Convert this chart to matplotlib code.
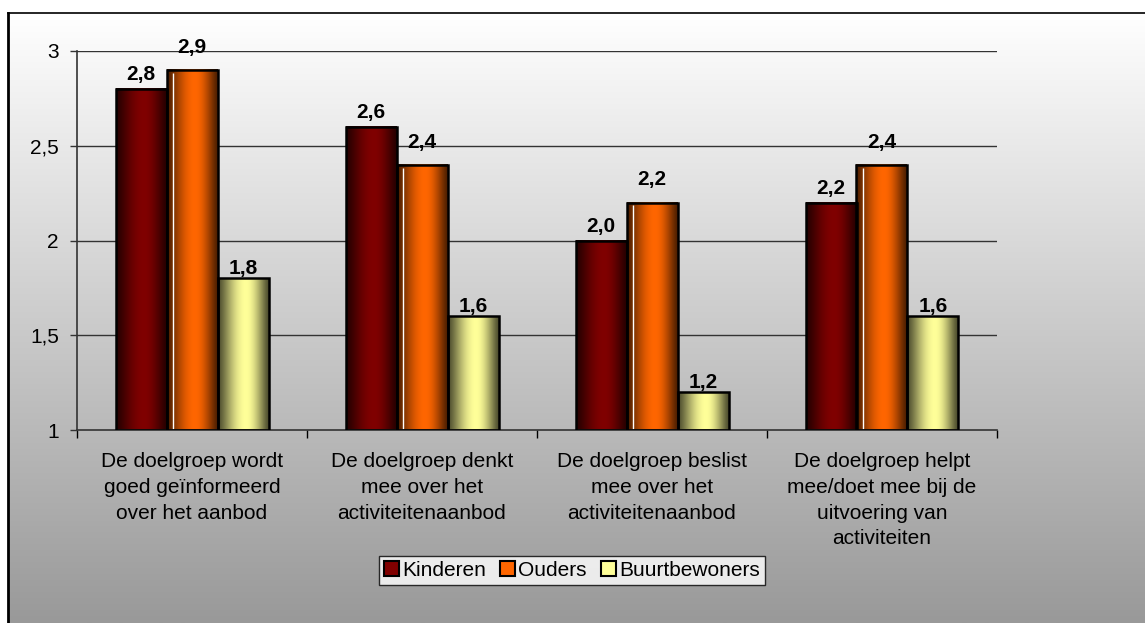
import numpy as np
import matplotlib
matplotlib.use("Agg")
import matplotlib.pyplot as plt
from matplotlib.patches import Rectangle, Patch
from matplotlib.colors import to_rgb

categories = [
    "De doelgroep wordt\ngoed geïnformeerd\nover het aanbod",
    "De doelgroep denkt\nmee over het\nactiviteitenaanbod",
    "De doelgroep beslist\nmee over het\nactiviteitenaanbod",
    "De doelgroep helpt\nmee/doet mee bij de\nuitvoering van\nactiviteiten",
]
series_names = ["Kinderen", "Ouders", "Buurtbewoners"]
kinderen = [2.8, 2.6, 2.0, 2.2]
ouders = [2.9, 2.4, 2.2, 2.4]
buurtbewoners = [1.8, 1.6, 1.2, 1.6]
series_values = [kinderen, ouders, buurtbewoners]
colors = ["#800000", "#FF6600", "#FFFF99"]
label_offsets_pt = [3.5, 9.5, 0.0]
yticks = [1, 1.5, 2, 2.5, 3]
ytick_labels = ["1", "1,5", "2", "2,5", "3"]

plt.rcParams['font.family'] = ['Liberation Sans', 'DejaVu Sans']
FS = 15

W, H = 1145, 623
fig = plt.figure(figsize=(W / 100, H / 100), dpi=100)
fig.patch.set_facecolor("white")

# background gradient inside the border
bg = fig.add_axes([8 / W, 0, 1 - 8 / W, (H - 13) / H])
bg.set_axis_off()
grad = np.linspace(1.0, 0.60, 256).reshape(-1, 1)
bg.imshow(np.dstack([grad, grad, grad]), aspect="auto", extent=[0, 1, 0, 1],
          origin="upper")
bg.set_xlim(0, 1); bg.set_ylim(0, 1)
bg.plot([0, 0], [0, 1], color="black", lw=2.0, transform=bg.transAxes, clip_on=False)
bg.plot([0, 1], [1, 1], color="black", lw=1.2, transform=bg.transAxes, clip_on=False)

ax = fig.add_axes([77 / W, (H - 430) / H, (997 - 77) / W, (430 - 51) / H])
ax.set_facecolor("none")
ax.set_xlim(-0.5, 3.5)
ax.set_ylim(1, 3)

bw = 51 / 230
offsets = [-bw, 0, bw]
t = np.linspace(0, 1, 200)
peak = 0.55
u = np.where(t < peak, t / peak, (1 - t) / (1 - peak))
profile = 0.3 + 0.7 * np.sin(np.pi / 2 * u) ** 1.3

for s, (vals, col) in enumerate(zip(series_values, colors)):
    base = np.array(to_rgb(col))
    img = np.clip(profile[None, :, None] * base[None, None, :], 0, 1)
    for i, v in enumerate(vals):
        x0 = i + offsets[s] - bw / 2
        ax.imshow(img, aspect="auto", extent=[x0, x0 + bw, 1, v], zorder=2,
                  interpolation="bilinear")
        if s == 1:
            ax.plot([x0 + bw * 0.13] * 2, [1, v - 0.015], color="white",
                    lw=1.0, zorder=2.5, solid_capstyle="butt")
        ax.add_patch(Rectangle((x0, 1), bw, v - 1, facecolor="none",
                               edgecolor="black", lw=1.8, zorder=3))
        ax.annotate(f"{v:.1f}".replace(".", ","), (i + offsets[s], v),
                    xytext=(0, label_offsets_pt[s]), textcoords="offset points",
                    ha="center", va="bottom", fontsize=FS, fontweight="bold",
                    zorder=4)

ax.set_xlim(-0.5, 3.5)
ax.set_ylim(1, 3)

for y in yticks[1:]:
    ax.axhline(y, color="#333333", lw=1.0, zorder=1)

ax.set_yticks(yticks)
ax.set_yticklabels(ytick_labels, fontsize=FS)
ax.tick_params(axis="y", length=5, width=1, color="#333333", pad=8)

ax.set_xticks([-0.5, 0.5, 1.5, 2.5, 3.5])
ax.set_xticklabels([])
ax.tick_params(axis="x", which="major", length=6, width=1, color="#000000")
ax.set_xticks([0, 1, 2, 3], minor=True)
ax.set_xticklabels(categories, minor=True, fontsize=FS, linespacing=1.45)
ax.tick_params(axis="x", which="minor", length=0, pad=16)

for sp in ["top", "right"]:
    ax.spines[sp].set_visible(False)
for sp in ["left", "bottom"]:
    ax.spines[sp].set_color("#333333")
    ax.spines[sp].set_linewidth(1.2)

handles = [Patch(facecolor=c, edgecolor="black", lw=1.5) for c in colors]
leg = fig.legend(handles, series_names, loc="center",
                 bbox_to_anchor=(572 / W, (H - 570.5) / H),
                 bbox_transform=fig.transFigure, ncol=3, fontsize=FS,
                 frameon=True, fancybox=False, handlelength=0.7,
                 handleheight=0.7, handletextpad=0.15, columnspacing=0.7,
                 borderpad=0.25, borderaxespad=0)
leg.get_frame().set_edgecolor("black")
leg.get_frame().set_linewidth(1.0)
leg.get_frame().set_facecolor("white")

fig.savefig("out.png", dpi=100)
